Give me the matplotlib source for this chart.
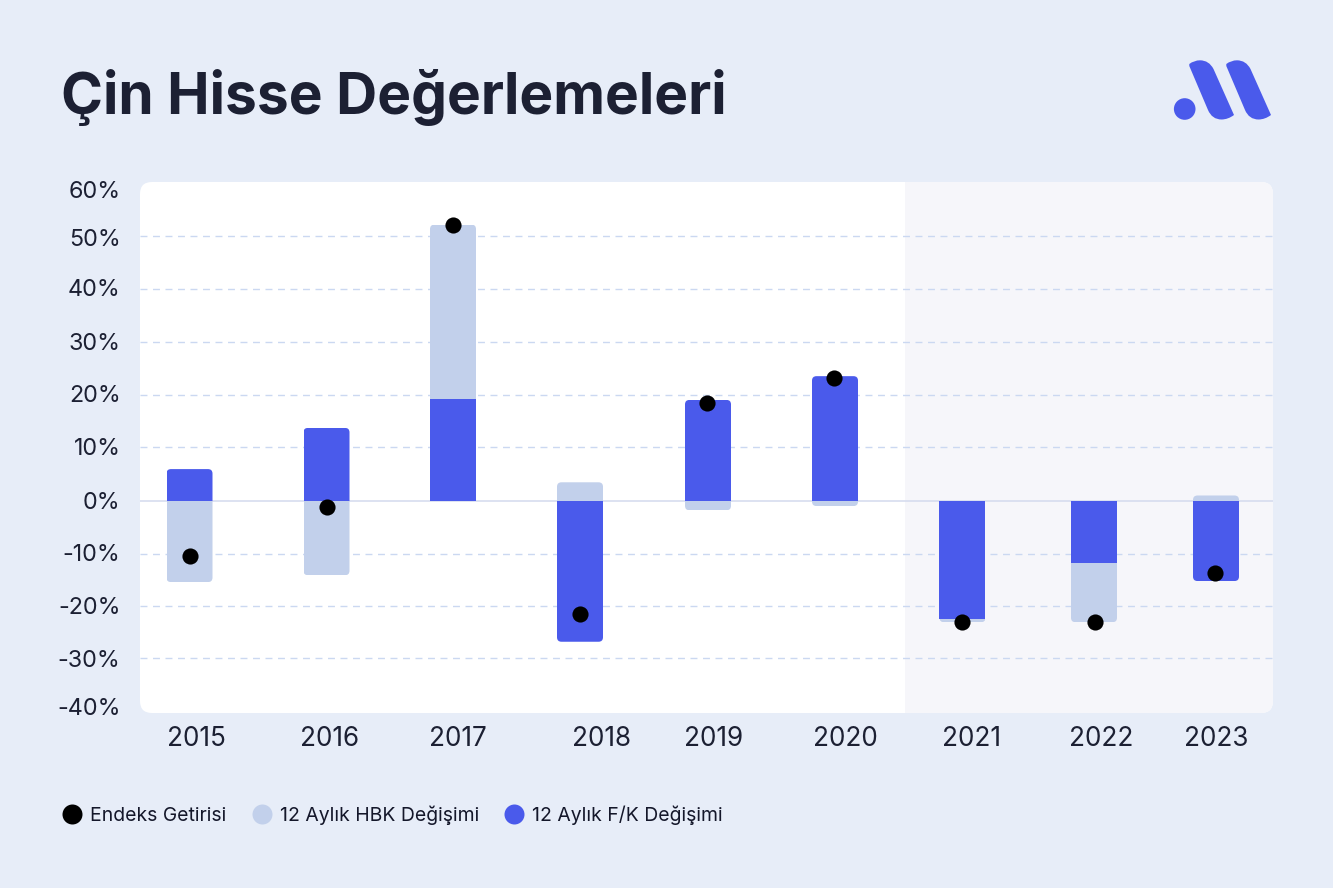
import matplotlib
matplotlib.use("Agg")
import matplotlib.pyplot as plt
from matplotlib.lines import Line2D
from matplotlib.patches import FancyBboxPatch, PathPatch, Circle
from matplotlib.path import Path
from matplotlib.transforms import Affine2D

# ---- data ----
years = ["2015", "2016", "2017", "2018", "2019", "2020", "2021", "2022", "2023"]
pe_change = [6.1, 13.9, 19.3, -26.6, 19.2, 23.7, -22.3, -11.7, -15.1]
pb_change = [-15.3, -14.0, 33.1, 3.6, -1.7, -0.9, -0.6, -11.2, 1.1]
index_return = [-10.4, -1.1, 52.3, -21.3, 18.6, 23.3, -22.9, -22.9, -13.6]
y_ticks = [59.0, 50.0, 40.5, 30.2, 20.5, 10.4, 0.2, -9.7, -19.7, -29.7, -38.9]
y_labels = ["60%", "50%", "40%", "30%", "20%", "10%", "0%", "-10%", "-20%", "-30%", "-40%"]
grid_values = [50.2, 40.3, 30.1, 20.2, 10.2, -9.9, -19.9, -29.7]

# ---- layout (pixel-like x scale of the uneven category spacing) ----
bar_x = [189.5, 326.5, 453, 580, 708, 835, 962.5, 1094, 1216]
dot_x = [190, 327, 453, 580, 707, 834, 962, 1095, 1215]
label_x = [196, 330, 458, 602, 714, 845, 972, 1101, 1216]
BAR_W = 46
W, H = 1333, 888
PANEL = (140, 182, 1273, 713)
SHADE_START = 905
Y_PX_PER_UNIT = 5.28
ZERO_PX = 501.3

BG = "#E7EDF8"
BLUE = "#4A5AEB"
LIGHT = "#C2D0EB"
SHADE = "#F6F6FA"
GRID = "#CBD8F1"
ZERO = "#D3DAEE"
INK = "#1C2033"

plt.rcParams["font.family"] = ["Inter", "DejaVu Sans"]
fig = plt.figure(figsize=(W / 100, H / 100), dpi=100, facecolor=BG)
px = Affine2D().scale(1, -1).translate(0, H)  # top-left origin pixels

# rounded panel background
panel = FancyBboxPatch((PANEL[0] + 12, PANEL[1] + 12), PANEL[2] - PANEL[0] - 24, PANEL[3] - PANEL[1] - 24,
                       boxstyle="round,pad=12,rounding_size=12", fc="white", ec="none", transform=px, zorder=-1)
fig.add_artist(panel)

ax = fig.add_axes([PANEL[0] / W, 1 - PANEL[3] / H, (PANEL[2] - PANEL[0]) / W, (PANEL[3] - PANEL[1]) / H])
ax.patch.set_visible(False)
ax.set_xlim(PANEL[0], PANEL[2])
ax.set_ylim((ZERO_PX - PANEL[3]) / Y_PX_PER_UNIT, (ZERO_PX - PANEL[1]) / Y_PX_PER_UNIT)
for s in ax.spines.values():
    s.set_visible(False)

shade = ax.axvspan(SHADE_START, PANEL[2], fc=SHADE, ec="none", zorder=0)
shade.set_clip_path(panel)

for v in grid_values:
    ax.axhline(v, color=GRID, lw=1, dashes=(5, 4), zorder=1)
ax.axhline(0, color=ZERO, lw=1.1, zorder=1)

# stacked bars: the P/B part sits on P/E when the signs agree
pb_base = [p if p * b > 0 else 0 for p, b in zip(pe_change, pb_change)]
bars_pb = ax.bar(bar_x, pb_change, BAR_W, bottom=pb_base, color=LIGHT, zorder=2, label="12 Aylık HBK Değişimi")
bars_pe = ax.bar(bar_x, pe_change, BAR_W, color=BLUE, zorder=3, label="12 Aylık F/K Değişimi")


def round_outer(rect, radius_px=4.5):
    """Clip a bar so that its end far from zero has rounded corners."""
    x0, w = rect.get_x(), rect.get_width()
    y_a, y_b = rect.get_y(), rect.get_y() + rect.get_height()
    end = y_a if abs(y_a) > abs(y_b) else y_b
    inner = y_b if end == y_a else y_a
    sign = 1 if end > inner else -1
    ry = sign * radius_px / Y_PX_PER_UNIT
    r = radius_px
    verts = [(x0, inner - sign), (x0, end - ry), (x0, end), (x0 + r, end),
             (x0 + w - r, end), (x0 + w, end), (x0 + w, end - ry), (x0 + w, inner - sign), (x0, inner - sign)]
    codes = [Path.MOVETO, Path.LINETO, Path.CURVE3, Path.CURVE3, Path.LINETO,
             Path.CURVE3, Path.CURVE3, Path.LINETO, Path.CLOSEPOLY]
    rect.set_clip_path(Path(verts, codes), ax.transData)


for rect in bars_pb:
    round_outer(rect)
for rect, base in zip(bars_pe, pb_base):
    if base == 0:
        round_outer(rect)

ax.scatter(dot_x, index_return, s=135, color="black", zorder=4, linewidths=0, clip_on=False,
           label="Endeks Getirisi")

ax.set_yticks(y_ticks, y_labels)
ax.set_xticks(label_x, years)
ax.tick_params(axis="both", length=0, labelcolor=INK)
ax.tick_params(axis="y", pad=14, labelsize=16.8)
ax.tick_params(axis="x", pad=9, labelsize=18.8)

# title
fig.text(61 / W, 1 - 97 / H, "Çin Hisse Değerlemeleri", fontsize=40.9, fontweight="bold", color=INK,
         va="center", ha="left")

# legend
handles = [Line2D([], [], ls="", marker="o", ms=14.4, mfc=c, mec="none") for c in ("black", LIGHT, BLUE)]
fig.legend(handles, ["Endeks Getirisi", "12 Aylık HBK Değişimi", "12 Aylık F/K Değişimi"],
           loc="center left", bbox_to_anchor=(62.5 / W, 1 - 815 / H), ncol=3, frameon=False,
           fontsize=13.95, labelcolor="#14172A", handlelength=1.0, handletextpad=0.44,
           columnspacing=1.3, borderpad=0, borderaxespad=0)

# logo
fig.add_artist(Circle((1184.7, 109), 10.8, fc=BLUE, ec="none", transform=px))
for dx in (0, 37):
    v = [(1189.3, 64), (1194, 60.3), (1200, 60.3), (1209, 60.3), (1213.5, 69),
         (1234, 115), (1228, 119.5), (1221.5, 119.5), (1212, 119.5), (1208, 110),
         (1189.3, 66), (1189.3, 64)]
    c = [Path.MOVETO, Path.CURVE3, Path.CURVE3, Path.CURVE3, Path.CURVE3,
         Path.LINETO, Path.CURVE3, Path.CURVE3, Path.CURVE3, Path.CURVE3,
         Path.LINETO, Path.CLOSEPOLY]
    fig.add_artist(PathPatch(Path([(x + dx, y) for x, y in v], c), fc=BLUE, ec="none", transform=px))

fig.savefig("out.png", dpi=100, facecolor=BG)
